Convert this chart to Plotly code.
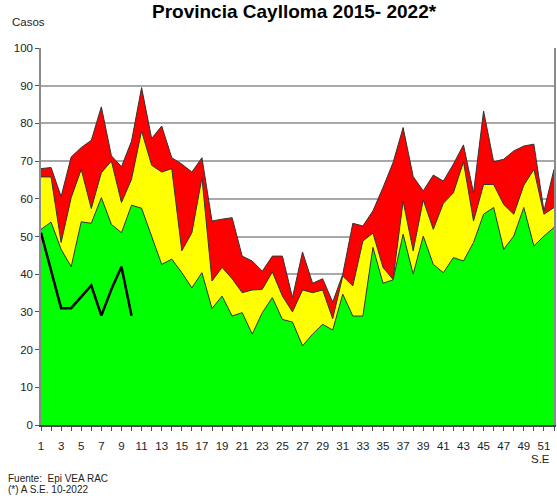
import plotly.graph_objects as go

weeks = list(range(1, 53))

# Upper limit of the alarm zone (red top)
epidemic = [68.0, 68.3, 60.6, 71.1, 73.6, 75.5, 84.4, 71.4, 68.5, 75.3,
            89.5, 76.0, 79.3, 70.9, 69.2, 67.1, 70.9, 54.1, 54.6, 55.0,
            44.8, 43.5, 40.8, 44.8, 44.8, 33.8, 45.9, 37.6, 38.8, 32.6,
            40.0, 53.5, 52.8, 56.8, 63.0, 69.6, 78.9, 65.9, 62.1, 66.3,
            64.7, 69.2, 74.3, 61.6, 83.3, 69.8, 70.5, 72.7, 74.0, 74.5,
            56.8, 67.8]
# Safety zone upper limit (yellow top)
alarm = [65.8, 65.8, 48.4, 60.3, 67.8, 57.4, 66.9, 70.0, 59.0, 65.2,
         78.0, 68.9, 67.1, 68.0, 46.2, 51.0, 65.6, 38.2, 41.8, 38.8,
         35.1, 35.8, 36.0, 40.6, 34.2, 30.0, 35.8, 35.1, 35.8, 28.2,
         39.5, 36.9, 48.8, 50.9, 41.8, 38.6, 59.4, 46.2, 59.7, 51.9,
         58.8, 61.6, 69.8, 54.1, 63.8, 63.8, 58.5, 55.9, 63.6, 67.8,
         55.9, 57.7]
# Success zone upper limit (green top)
success = [51.9, 53.8, 46.6, 42.0, 53.9, 53.5, 60.3, 53.2, 51.0, 58.3,
           57.5, 50.1, 42.6, 44.0, 40.4, 36.4, 40.4, 30.9, 34.2, 28.9,
           29.8, 24.1, 29.8, 33.8, 28.0, 27.3, 21.0, 24.1, 26.7, 25.2,
           34.7, 28.9, 28.9, 47.1, 37.6, 38.5, 50.6, 40.0, 50.1, 42.6,
           40.4, 44.4, 43.5, 48.4, 55.9, 57.7, 46.6, 50.1, 57.7, 47.5,
           50.1, 52.4]
# Cases 2022 (up to week 10)
weeks_2022 = list(range(1, 11))
cases_2022 = [51, 41, 31, 31, 34, 37, 29, 36, 42, 29]

tick_vals = list(range(1, 52, 2))
tick_text = [str(v) for v in tick_vals]

edge = dict(color="#333333", width=1)
fig = go.Figure()
fig.add_trace(go.Scatter(x=weeks, y=epidemic, mode="lines", line=edge,
                         fill="tozeroy", fillcolor="#FF0000", name="Epidemia"))
fig.add_trace(go.Scatter(x=weeks, y=alarm, mode="lines", line=edge,
                         fill="tozeroy", fillcolor="#FFFF00", name="Alarma"))
fig.add_trace(go.Scatter(x=weeks, y=success, mode="lines", line=edge,
                         fill="tozeroy", fillcolor="#00FF00", name="Éxito"))
fig.add_trace(go.Scatter(x=weeks_2022, y=cases_2022, mode="lines",
                         line=dict(color="#000000", width=2.5), name="2022"))

FONT = "Liberation Sans Narrow, Arial Narrow, Liberation Sans, Arial"
tick_font = dict(family=FONT, size=11.5, color="#222222")

fig.update_layout(
    width=557, height=499,
    margin=dict(l=41, r=1, t=48, b=74),
    paper_bgcolor="white", plot_bgcolor="white",
    showlegend=False,
    xaxis=dict(range=[1, 52], tickvals=tick_vals, ticktext=tick_text,
               ticks="outside", ticklen=4, tickcolor="#555555",
               ticklabelstandoff=5,
               minor=dict(dtick=1, tick0=1, ticks="outside", ticklen=4, tickcolor="#555555"),
               showgrid=False, zeroline=False, showline=True,
               linecolor="#444444", linewidth=1.5, tickfont=tick_font),
    yaxis=dict(range=[0, 100], dtick=10, ticks="outside", ticklen=4,
               tickcolor="#555555", showgrid=True, gridcolor="#A8A8A8",
               gridwidth=1.5, zeroline=False, showline=True, mirror=True,
               linecolor="#8A8A8A", linewidth=1.5, tickfont=tick_font),
    annotations=[
        dict(text="<b>Provincia Caylloma 2015- 2022*</b>", xref="paper", yref="paper",
             x=0.495, y=1.098, xanchor="center", yanchor="middle", showarrow=False,
             font=dict(family=FONT, size=19, color="#000000")),
        dict(text="Casos", xref="paper", yref="paper", x=-0.025, y=1.069,
             xanchor="center", yanchor="middle", showarrow=False, font=tick_font),
        dict(text="S.E", xref="paper", yref="paper", x=0.973, y=-0.09,
             xanchor="center", yanchor="middle", showarrow=False, font=tick_font),
        dict(text="Fuente:  Epi VEA RAC", xref="paper", yref="paper", x=-0.068, y=-0.1406,
             xanchor="left", yanchor="middle", showarrow=False,
             font=dict(family=FONT, size=10, color="#222222")),
        dict(text="(*) A S.E. 10-2022", xref="paper", yref="paper", x=-0.068, y=-0.172,
             xanchor="left", yanchor="middle", showarrow=False,
             font=dict(family=FONT, size=10, color="#222222")),
    ],
)

post = ("document.body.style.margin='0';document.body.style.padding='0';"
        "document.body.style.overflow='hidden';"
        "var gd=document.getElementById('{plot_id}');"
        "Plotly.relayout(gd,{width:557,height:499});")
fig.write_html("out.html", config={"responsive": False, "displayModeBar": False},
               post_script=post)
